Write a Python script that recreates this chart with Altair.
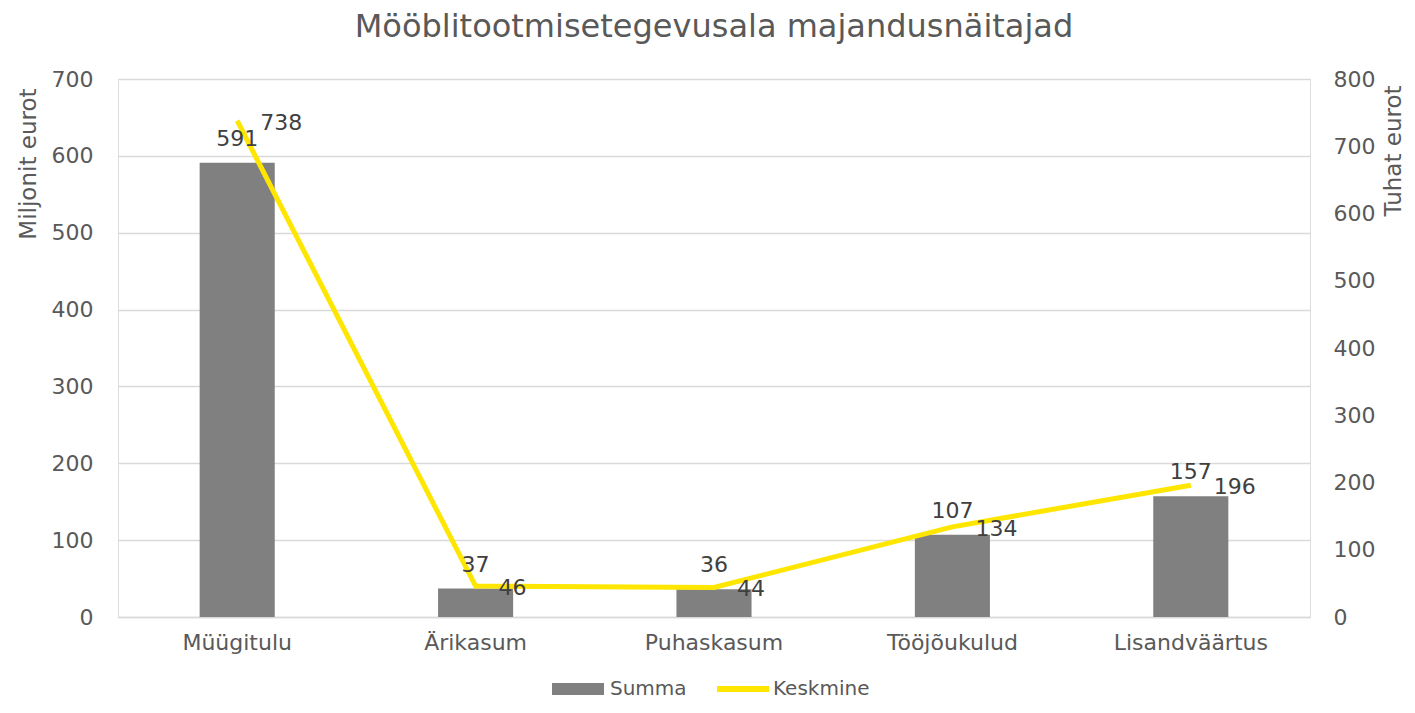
import altair as alt
import pandas as pd

categories = ["Müügitulu", "Ärikasum", "Puhaskasum", "Tööjõukulud", "Lisandväärtus"]
summa = [591, 37, 36, 107, 157]
keskmine = [738, 46, 44, 134, 196]

df = pd.DataFrame({
    "cat": categories,
    "summa": summa,
    "keskmine": keskmine,
    "s1": ["Summa"] * 5,
    "s2": ["Keskmine"] * 5,
})

FONT = "DejaVu Sans"
W, H = 1192, 538
GREY = "#808080"
YEL = "#FFE600"
TXT = "#595959"

x = alt.X(
    "cat:N", sort=categories,
    scale=alt.Scale(paddingInner=0.685, paddingOuter=0.3425),
    axis=alt.Axis(title=None, labelFontSize=22, labelColor=TXT, labelPadding=15,
                  ticks=False, domainColor="#D9D9D9", domainWidth=1.5, grid=False,
                  labelAngle=0, labelFont=FONT),
)

base = alt.Chart(df)

bar = base.mark_bar(color=GREY).encode(
    x=x,
    y=alt.Y("summa:Q", scale=alt.Scale(domain=[0, 700]),
            axis=alt.Axis(title="Miljonit eurot", orient="left", values=[0, 100, 200, 300, 400, 500, 600, 700],
                          labelFontSize=22, labelColor=TXT, labelPadding=25, ticks=False, domain=False,
                          gridColor="#D9D9D9", gridWidth=1.5, titleFontSize=23, titleColor=TXT,
                          titleFontWeight="normal", titleAngle=270, titleAlign="right", titleY=9,
                          titleX=-90, titleBaseline="middle",
                          labelFont=FONT, titleFont=FONT)),
    color=alt.Color("s1:N", scale=alt.Scale(domain=["Summa"], range=[GREY]),
                    legend=alt.Legend(title=None, orient="none", legendX=434, legendY=584,
                                      direction="horizontal",
                                      symbolType="M-1,-0.235H1V0.235H-1Z", symbolSize=2704,
                                      symbolStrokeWidth=0, symbolOpacity=1,
                                      labelFontSize=20, labelColor=TXT, labelOffset=6, labelFont=FONT)),
)

line = base.mark_line(strokeWidth=5, color=YEL).encode(
    x=x,
    y=alt.Y("keskmine:Q", scale=alt.Scale(domain=[0, 800]),
            axis=alt.Axis(title="Tuhat eurot", orient="right", values=[0, 100, 200, 300, 400, 500, 600, 700, 800],
                          labelFontSize=22, labelColor=TXT, labelPadding=23, ticks=False, domain=False,
                          grid=False, titleFontSize=23, titleColor=TXT, titleAngle=270,
                          titleAlign="right", titleY=6, titleX=83, titleBaseline="middle",
                          titleFontWeight="normal",
                          labelFont=FONT, titleFont=FONT)),
    stroke=alt.Stroke("s2:N", scale=alt.Scale(domain=["Keskmine"], range=[YEL]),
                      legend=alt.Legend(title=None, orient="none", legendX=596, legendY=581,
                                        direction="horizontal", symbolType="stroke", symbolSize=2704,
                                        symbolStrokeWidth=6,
                                        labelFontSize=20, labelColor=TXT, labelOffset=1, labelFont=FONT)),
)

bartext = base.mark_text(baseline="alphabetic", dy=-17, fontSize=22, color="#404040", font=FONT).encode(
    x=x,
    y=alt.Y("summa:Q", scale=alt.Scale(domain=[0, 700]), axis=None),
    text="summa:Q",
)

linetext = base.mark_text(align="left", baseline="middle", dx=23, dy=2, fontSize=22,
                          color="#404040", font=FONT).encode(
    x=x,
    y=alt.Y("keskmine:Q", scale=alt.Scale(domain=[0, 800]), axis=None),
    text="keskmine:Q",
)

chart = alt.layer(bar, line, bartext, linetext).resolve_scale(y="independent").properties(
    width=W, height=H,
    title=alt.Title("Mööblitootmisetegevusala majandusnäitajad", fontSize=32, color=TXT,
                    fontWeight="normal", font=FONT, offset=24),
    autosize=alt.AutoSizeParams(type="none"),
    padding={"left": 110, "top": 71, "right": 95, "bottom": 86},
).configure_view(stroke=None).configure(font=FONT)

chart.save("out.html", embed_options={"renderer": "svg", "actions": False})
